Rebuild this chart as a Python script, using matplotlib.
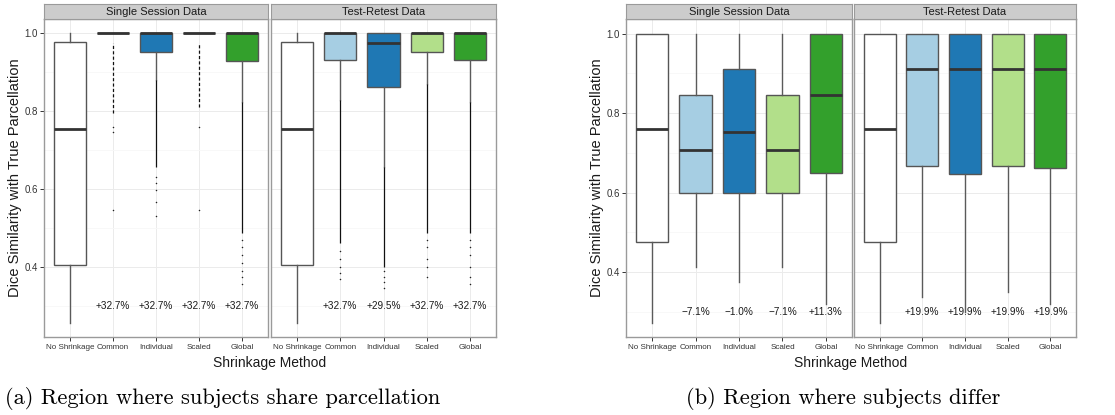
import numpy as np
import matplotlib
matplotlib.use("Agg")
import matplotlib.pyplot as plt

plt.rcParams['font.family'] = ['Liberation Sans', 'DejaVu Sans']

# ---------------- data ----------------
methods = ["No Shrinkage", "Common", "Individual", "Scaled", "Global"]
facets = ["Single Session Data", "Test-Retest Data"]
box_colors = ["white", "#A6CEE3", "#1F78B4", "#B2DF8A", "#33A02C"]
y_ticks = [0.4, 0.6, 0.8, 1.0]
y_tick_labels = ["0.4", "0.6", "0.8", "1.0"]
x_label = "Shrinkage Method"
y_label = "Dice Similarity with True Parcellation"
caption_a = "(a) Region where subjects share parcellation"
caption_b = "(b) Region where subjects differ"

# Region (a): subjects share parcellation -- Single Session
a_ss_whislo = [0.256, 1.0, 0.880, 1.0, 0.823]
a_ss_q1 = [0.404, 1.0, 0.952, 1.0, 0.928]
a_ss_med = [0.753, 1.0, 1.0, 1.0, 1.0]
a_ss_q3 = [0.976, 1.0, 1.0, 1.0, 1.0]
a_ss_whishi = [1.0, 1.0, 1.0, 1.0, 1.0]
a_ss_dense_hi = [np.nan, 0.975, 0.880, 0.975, 0.823]
a_ss_dense_lo = [np.nan, 0.795, 0.657, 0.810, 0.486]
a_ss_fliers = [[], [0.759, 0.745, 0.545], [0.63, 0.615, 0.597, 0.566, 0.53],
               [0.759, 0.545], [0.47, 0.45, 0.43, 0.41, 0.39, 0.375, 0.357]]
a_ss_text = ["", "+32.7%", "+32.7%", "+32.7%", "+32.7%"]

# Region (a) -- Test-Retest
a_tr_whislo = [0.256, 0.828, 0.655, 0.870, 0.823]
a_tr_q1 = [0.404, 0.930, 0.862, 0.952, 0.930]
a_tr_med = [0.753, 1.0, 0.975, 1.0, 1.0]
a_tr_q3 = [0.976, 1.0, 1.0, 1.0, 1.0]
a_tr_whishi = [1.0, 1.0, 1.0, 1.0, 1.0]
a_tr_dense_hi = [np.nan, 0.828, 0.655, 0.870, 0.823]
a_tr_dense_lo = [np.nan, 0.460, 0.400, 0.486, 0.486]
a_tr_fliers = [[], [0.44, 0.42, 0.40, 0.385, 0.37], [0.39, 0.375, 0.36, 0.345],
               [0.47, 0.45, 0.42, 0.40, 0.375], [0.47, 0.45, 0.43, 0.40, 0.375, 0.357]]
a_tr_text = ["", "+32.7%", "+29.5%", "+32.7%", "+32.7%"]

# Region (b): subjects differ -- Single Session
b_ss_whislo = [0.273, 0.412, 0.375, 0.412, 0.320]
b_ss_q1 = [0.477, 0.600, 0.600, 0.600, 0.649]
b_ss_med = [0.760, 0.707, 0.753, 0.707, 0.847]
b_ss_q3 = [1.0, 0.847, 0.911, 0.847, 1.0]
b_ss_whishi = [1.0, 1.0, 1.0, 1.0, 1.0]
b_ss_text = ["", "\u22127.1%", "\u22121.0%", "\u22127.1%", "+11.3%"]

# Region (b) -- Test-Retest
b_tr_whislo = [0.273, 0.337, 0.300, 0.350, 0.320]
b_tr_q1 = [0.477, 0.667, 0.647, 0.667, 0.661]
b_tr_med = [0.760, 0.911, 0.911, 0.911, 0.911]
b_tr_q3 = [1.0, 1.0, 1.0, 1.0, 1.0]
b_tr_whishi = [1.0, 1.0, 1.0, 1.0, 1.0]
b_tr_text = ["", "+19.9%", "+19.9%", "+19.9%", "+19.9%"]

annot_y = 0.30

# ---------------- layout ----------------
W, H = 1115, 415
fig = plt.figure(figsize=(W / 100, H / 100), dpi=100)


def rect(x0, y0, x1, y1):
    return [x0 / W, 1 - y1 / H, (x1 - x0) / W, (y1 - y0) / H]


EDGE = "#555555"
BORDER = "#9A9A9A"


def draw_panel(px, ylim, whislo, q1, med, q3, whishi, texts, title,
               show_y, dense_hi=None, dense_lo=None, fliers=None, dashed=()):
    x0, x1 = px
    ax = fig.add_axes(rect(x0, 19, x1, 337))
    sax = fig.add_axes(rect(x0, 4, x1, 19))
    sax.set_facecolor("#CCCCCC")
    sax.set_xticks([]); sax.set_yticks([])
    for s in sax.spines.values():
        s.set_color(BORDER); s.set_linewidth(0.8)
    sax.text(0.5, 0.45, title, ha="center", va="center", fontsize=8,
             color="#1A1A1A", transform=sax.transAxes)

    pos = np.arange(1, len(methods) + 1)

    stats = []
    for i in range(len(methods)):
        stats.append(dict(med=med[i], q1=q1[i], q3=q3[i], whislo=whislo[i],
                          whishi=whishi[i],
                          fliers=fliers[i] if fliers is not None else []))
    bp = ax.bxp(stats, positions=pos, widths=0.75, patch_artist=True,
                showcaps=False, showfliers=True, manage_ticks=False,
                boxprops=dict(edgecolor=EDGE, linewidth=1.0),
                medianprops=dict(color="#333333", linewidth=2.0),
                whiskerprops=dict(color="#5A5A5A", linewidth=1.0),
                flierprops=dict(marker="o", markersize=1.1, markerfacecolor="#222222",
                                markeredgecolor="none", linestyle="none"))
    for patch, c in zip(bp["boxes"], box_colors):
        patch.set_facecolor(c)
        patch.set_zorder(2)

    ax.set_xlim(0.4, len(methods) + 0.6)
    ax.set_ylim(*ylim)
    ax.set_yticks(y_ticks)
    ax.set_yticks([0.3, 0.5, 0.7, 0.9], minor=True)
    ax.set_xticks(pos)
    ax.set_xticklabels(methods, fontsize=5.8, color="#333333")
    ax.grid(which="major", color="#EBEBEB", lw=0.7, zorder=0)
    ax.grid(which="minor", axis="y", color="#F7F7F7", lw=0.6, zorder=0)
    ax.set_axisbelow(True)
    ax.tick_params(axis="x", length=3, width=0.7, color="#333333", pad=2)
    ax.tick_params(which="minor", length=0)
    if show_y:
        ax.set_yticklabels(y_tick_labels, fontsize=7, color="#333333")
        ax.tick_params(axis="y", length=3, width=0.7, color="#333333", pad=1.5)
    else:
        ax.tick_params(axis="y", length=0, labelleft=False)
    for s in ax.spines.values():
        s.set_color(BORDER); s.set_linewidth(1.0)

    if dense_hi is not None:
        for i in range(len(methods)):
            if np.isnan(dense_hi[i]):
                continue
            ls = (0, (2.5, 1.8)) if i in dashed else "-"
            ax.vlines(pos[i], dense_lo[i], dense_hi[i], colors="#111111",
                      linewidth=0.9, linestyles=ls, zorder=3)

    for p, t in zip(pos, texts):
        if t:
            ax.text(p, annot_y, t, ha="center", va="center", fontsize=7.2,
                    color="#1A1A1A", zorder=5)
    return ax


ylim_a = (0.22, 1.036)
ylim_b = (0.237, 1.037)

draw_panel((44, 268), ylim_a, a_ss_whislo, a_ss_q1, a_ss_med, a_ss_q3, a_ss_whishi,
           a_ss_text, facets[0], True, a_ss_dense_hi, a_ss_dense_lo, a_ss_fliers,
           dashed=(1, 3))
draw_panel((271, 496), ylim_a, a_tr_whislo, a_tr_q1, a_tr_med, a_tr_q3, a_tr_whishi,
           a_tr_text, facets[1], False, a_tr_dense_hi, a_tr_dense_lo, a_tr_fliers)
draw_panel((626, 852), ylim_b, b_ss_whislo, b_ss_q1, b_ss_med, b_ss_q3, b_ss_whishi,
           b_ss_text, facets[0], True)
draw_panel((854, 1076), ylim_b, b_tr_whislo, b_tr_q1, b_tr_med, b_tr_q3, b_tr_whishi,
           b_tr_text, facets[1], False)

# axis titles
for cx, ly in ((270, 15), (851, 597)):
    fig.text(cx / W, 1 - 363 / H, x_label, ha="center", va="center",
             fontsize=10, color="#1A1A1A")
    fig.text(ly / W, 1 - 178 / H, y_label, ha="center", va="center",
             rotation=90, fontsize=10.5, color="#1A1A1A")

# captions
fig.text(223 / W, 1 - 398 / H, caption_a, ha="center", va="center",
         fontsize=16.2, family="cmr10", color="black")
fig.text(843 / W, 1 - 398 / H, caption_b, ha="center", va="center",
         fontsize=16.2, family="cmr10", color="black")

fig.savefig("out.png", dpi=100, facecolor="white")
